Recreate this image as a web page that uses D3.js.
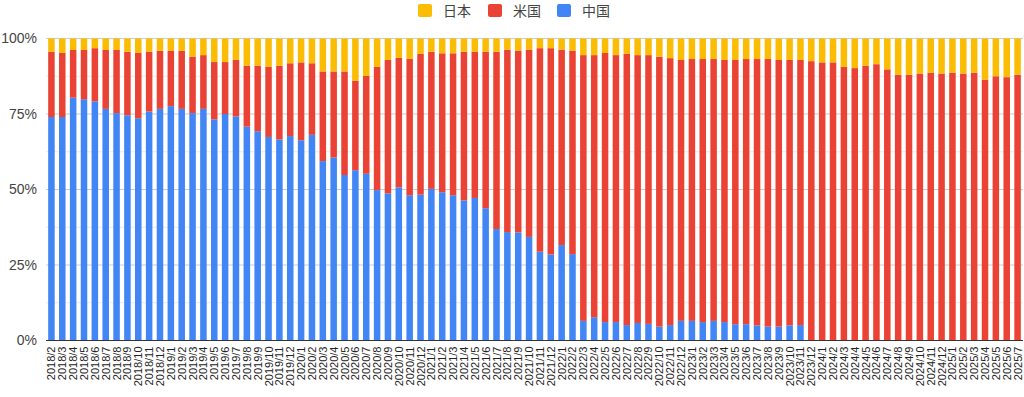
<!doctype html>
<html lang="ja">
<head>
    <meta charset="utf-8">
    <title>中国・米国・日本 構成比</title>
    <script src="https://cdnjs.cloudflare.com/ajax/libs/d3/7.8.5/d3.min.js"></script>
    <style>
        body {
            margin: 0;
            background: #fff;
            font-family: 'Liberation Sans', Arial, 'Noto Sans CJK JP', sans-serif;
        }
    </style>
</head>
<body>
    <svg id="chart" width="1024" height="397"></svg>
    <script>
        // months, 2018/2 .. 2025/7
        const months = [
            "2018/2","2018/3","2018/4","2018/5","2018/6","2018/7","2018/8","2018/9","2018/10","2018/11","2018/12",
            "2019/1","2019/2","2019/3","2019/4","2019/5","2019/6","2019/7","2019/8","2019/9","2019/10","2019/11","2019/12",
            "2020/1","2020/2","2020/3","2020/4","2020/5","2020/6","2020/7","2020/8","2020/9","2020/10","2020/11","2020/12",
            "2021/1","2021/2","2021/3","2021/4","2021/5","2021/6","2021/7","2021/8","2021/9","2021/10","2021/11","2021/12",
            "2022/1","2022/2","2022/3","2022/4","2022/5","2022/6","2022/7","2022/8","2022/9","2022/10","2022/11","2022/12",
            "2023/1","2023/2","2023/3","2023/4","2023/5","2023/6","2023/7","2023/8","2023/9","2023/10","2023/11","2023/12",
            "2024/1","2024/2","2024/3","2024/4","2024/5","2024/6","2024/7","2024/8","2024/9","2024/10","2024/11","2024/12",
            "2025/1","2025/2","2025/3","2025/4","2025/5","2025/6","2025/7"
        ];

        // share in percent
        const china = [
            74.0,74.0,80.4,79.9,79.2,76.7,75.3,74.6,73.6,75.8,76.7,
            77.6,76.7,75.3,76.7,73.2,75.0,74.2,70.8,69.3,67.4,66.6,67.7,
            66.3,68.1,59.4,60.6,54.8,56.4,55.2,49.8,48.7,50.7,48.1,48.3,
            50.2,49.1,48.1,46.4,47.2,43.8,36.9,35.9,35.8,34.3,29.4,28.5,
            31.6,28.6,6.5,7.7,6.1,6.1,5.1,5.8,5.5,4.6,5.1,6.5,
            6.5,6.1,6.5,6.1,5.4,5.4,5.0,4.6,4.6,5.0,5.1,0,
            0,0,0,0,0,0,0,0,0,0,0,0,
            0,0,0,0,0,0,0
        ];
        const usa = [
            21.6,21.2,15.8,16.3,17.6,19.5,20.9,21.0,21.6,19.8,19.2,
            18.3,19.2,18.7,17.8,19.0,17.2,18.7,20.2,21.7,23.2,24.4,24.1,
            25.8,23.7,29.7,28.5,34.3,29.6,32.4,40.8,44.2,42.9,45.1,46.6,
            45.4,46.0,47.0,49.2,48.4,51.8,58.7,60.4,60.2,62.0,67.4,68.3,
            64.7,67.4,88.0,86.8,89.1,88.4,89.8,88.7,89.0,89.4,88.4,86.4,
            86.7,87.1,86.7,86.8,87.5,87.8,88.2,88.6,88.3,87.9,87.8,92.5,
            92.1,92.1,90.6,90.2,91.0,91.5,89.8,88.0,88.0,88.4,88.7,88.4,
            88.7,88.4,88.7,86.4,87.5,87.2,88.0
        ];
        const japan = [
            4.4,4.8,3.8,3.8,3.2,3.8,3.8,4.4,4.8,4.4,4.1,
            4.1,4.1,6.0,5.5,7.8,7.8,7.1,9.0,9.0,9.4,9.0,8.2,
            7.9,8.2,10.9,10.9,10.9,14.0,12.4,9.4,7.1,6.4,6.8,5.1,
            4.4,4.9,4.9,4.4,4.4,4.4,4.4,3.7,4.0,3.7,3.2,3.2,
            3.7,4.0,5.5,5.5,4.8,5.5,5.1,5.5,5.5,6.0,6.5,7.1,
            6.8,6.8,6.8,7.1,7.1,6.8,6.8,6.8,7.1,7.1,7.1,7.5,
            7.9,7.9,9.4,9.8,9.0,8.5,10.2,12.0,12.0,11.6,11.3,11.6,
            11.3,11.6,11.3,13.6,12.5,12.8,12.0
        ];

        const yTicks = [0, 25, 50, 75, 100];
        const yMinor = [12.5, 37.5, 62.5, 87.5];

        const series = [
            {key: "china", name: "中国", color: "#4285F4", values: china},
            {key: "usa", name: "米国", color: "#EA4335", values: usa},
            {key: "japan", name: "日本", color: "#FBBC04", values: japan}
        ];
        const legendOrder = ["japan", "usa", "china"];

        const svg = d3.select("#chart");
        const plotLeft = 46, plotRight = 1023, plotTop = 38.5, plotBottom = 340.5;

        const rows = months.map((m, i) => {
            const r = {month: m};
            series.forEach(s => r[s.key] = s.values[i]);
            return r;
        });

        const x = d3.scaleBand().domain(months).range([plotLeft, plotRight]).paddingInner(0.4).paddingOuter(0.2);
        const y = d3.scaleLinear().domain([0, 100]).range([plotBottom, plotTop]);

        // gridlines
        svg.append("g").selectAll("line").data(yMinor).enter().append("line")
            .attr("x1", plotLeft).attr("x2", plotRight)
            .attr("y1", d => y(d)).attr("y2", d => y(d))
            .attr("stroke", "#ebebeb").attr("stroke-width", 1);
        svg.append("g").selectAll("line").data(yTicks.slice(1)).enter().append("line")
            .attr("x1", plotLeft).attr("x2", plotRight)
            .attr("y1", d => y(d)).attr("y2", d => y(d))
            .attr("stroke", "#cccccc").attr("stroke-width", 1);

        // stacked bars
        const stack = d3.stack().keys(series.map(s => s.key))(rows);
        svg.append("g").selectAll("g").data(stack).enter().append("g")
            .attr("fill", (d, i) => series[i].color)
            .selectAll("rect").data(d => d).enter().append("rect")
            .attr("x", d => x(d.data.month))
            .attr("width", x.bandwidth())
            .attr("y", d => y(d[1]))
            .attr("height", d => Math.max(0, y(d[0]) - y(d[1])));

        // baseline
        svg.append("line")
            .attr("x1", plotLeft).attr("x2", plotRight)
            .attr("y1", plotBottom).attr("y2", plotBottom)
            .attr("stroke", "#333").attr("stroke-width", 1);

        // y axis labels
        svg.append("g").selectAll("text").data(yTicks).enter().append("text")
            .attr("x", 37).attr("y", d => y(d)).attr("dy", "0.35em")
            .attr("text-anchor", "end")
            .attr("font-size", 14).attr("fill", "#444")
            .text(d => d + "%");

        // x axis labels (rotated)
        svg.append("g").selectAll("text").data(months).enter().append("text")
            .attr("transform", d => `translate(${x(d) + x.bandwidth() / 2 + 4},${plotBottom + 6}) rotate(-90)`)
            .attr("text-anchor", "end")
            .attr("font-size", 11).attr("fill", "#222")
            .text(d => d);

        // legend
        const legendX = [418, 488, 557];
        const legend = svg.append("g").selectAll("g").data(legendOrder).enter().append("g")
            .attr("transform", (d, i) => `translate(${legendX[i]},4)`);
        legend.append("rect")
            .attr("width", 14).attr("height", 13).attr("rx", 2)
            .attr("fill", d => series.find(s => s.key === d).color);
        legend.append("text")
            .attr("x", 25).attr("y", 7).attr("dy", "0.35em")
            .attr("font-size", 14).attr("fill", "#444")
            .attr("font-family", "'Noto Sans CJK JP', sans-serif")
            .text(d => series.find(s => s.key === d).name);
    </script>
</body>
</html>
